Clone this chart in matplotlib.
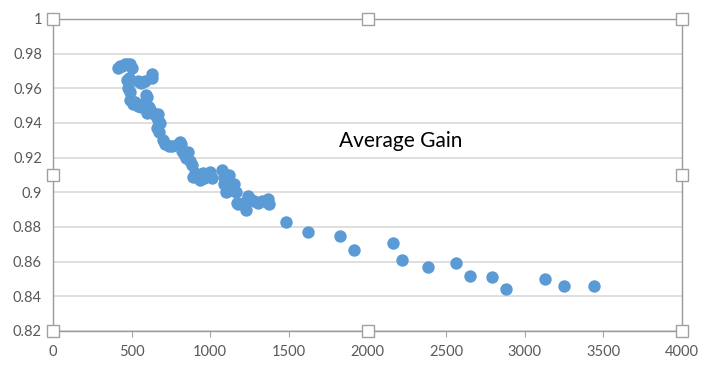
import matplotlib
matplotlib.use("Agg")
import matplotlib.pyplot as plt

# values (x, average gain)
cluster_x = [413, 425, 439, 455, 471, 490, 502, 630, 632,
             471, 485, 477, 490, 541, 560, 585, 592, 600,
             490, 510, 520, 540, 560, 575, 592, 610, 600, 625, 640,
             655, 665, 670, 661, 672, 680, 700, 715, 735, 757, 795, 810,
             815, 820, 835, 846, 860, 871, 884, 890, 903, 935, 954, 960,
             998, 1010, 1075, 1085, 1090, 1100, 1113, 1120, 1135, 1150, 1164,
             1170, 1176, 1210, 1227, 1240, 1253, 1280, 1304, 1330, 1367, 1372]
cluster_y = [0.972, 0.973, 0.973, 0.974, 0.974, 0.974, 0.972, 0.968, 0.966,
             0.965, 0.966, 0.960, 0.958, 0.964, 0.963, 0.964, 0.956, 0.955,
             0.953, 0.951, 0.952, 0.950, 0.949, 0.951, 0.951, 0.949, 0.946, 0.947, 0.945,
             0.944, 0.945, 0.942, 0.937, 0.935, 0.940, 0.930, 0.928, 0.927, 0.927, 0.928, 0.929,
             0.928, 0.924, 0.922, 0.920, 0.923, 0.918, 0.916, 0.909, 0.911, 0.907, 0.911, 0.908,
             0.912, 0.908, 0.913, 0.909, 0.905, 0.900, 0.901, 0.910, 0.903, 0.905, 0.900,
             0.894, 0.893, 0.894, 0.890, 0.898, 0.896, 0.895, 0.894, 0.895, 0.896, 0.893]
tail_x = [1482, 1622, 1825, 1914, 2162, 2219, 2384, 2563, 2652, 2792, 2880, 3128, 3250, 3440]
tail_y = [0.883, 0.877, 0.875, 0.867, 0.871, 0.861, 0.857, 0.859, 0.852, 0.851, 0.844, 0.850, 0.846, 0.846]

x_ticks = [0, 500, 1000, 1500, 2000, 2500, 3000, 3500, 4000]
y_ticks = [0.82, 0.84, 0.86, 0.88, 0.9, 0.92, 0.94, 0.96, 0.98, 1]
y_labels = ["0.82", "0.84", "0.86", "0.88", "0.9", "0.92", "0.94", "0.96", "0.98", "1"]

plt.rcParams['font.family'] = ['Lato', 'DejaVu Sans']

fig = plt.figure(figsize=(7.05, 3.77), dpi=100)
ax = fig.add_axes([53 / 705, 46 / 377, 629 / 705, 312 / 377])

blue = '#5B9BD5'
ax.scatter(cluster_x + tail_x, cluster_y + tail_y, s=80, color=blue, linewidths=0, zorder=3)

ax.set_xlim(0, 4000)
ax.set_ylim(0.82, 1.0)
ax.set_xticks(x_ticks)
ax.set_xticklabels([str(v) for v in x_ticks])
ax.set_yticks(y_ticks)
ax.set_yticklabels(y_labels)
ax.tick_params(axis='x', length=4, color='#a6a6a6', labelsize=10.5, labelcolor='#595959', pad=6)
ax.tick_params(axis='y', length=0, labelsize=10.5, labelcolor='#595959', pad=8)
ax.grid(axis='y', color='#d9d9d9', linewidth=1.2)
ax.set_axisbelow(True)
for side in ax.spines:
    ax.spines[side].set_color('#9a9a9a')
    ax.spines[side].set_linewidth(1.0)

ax.text(0.552, 0.609, "Average Gain", transform=ax.transAxes, ha='center', va='center',
        fontsize=15, color='black')

# selection handles around the plot area
hx = [0, 0.5, 1, 0, 1, 0, 0.5, 1]
hy = [0, 0, 0, 0.5, 0.5, 1, 1, 1]
ax.plot(hx, hy, 's', transform=ax.transAxes, ms=8, mfc='white', mec='#a0a0a0',
        mew=1.0, clip_on=False, zorder=5)

fig.savefig("out.png", dpi=100)
